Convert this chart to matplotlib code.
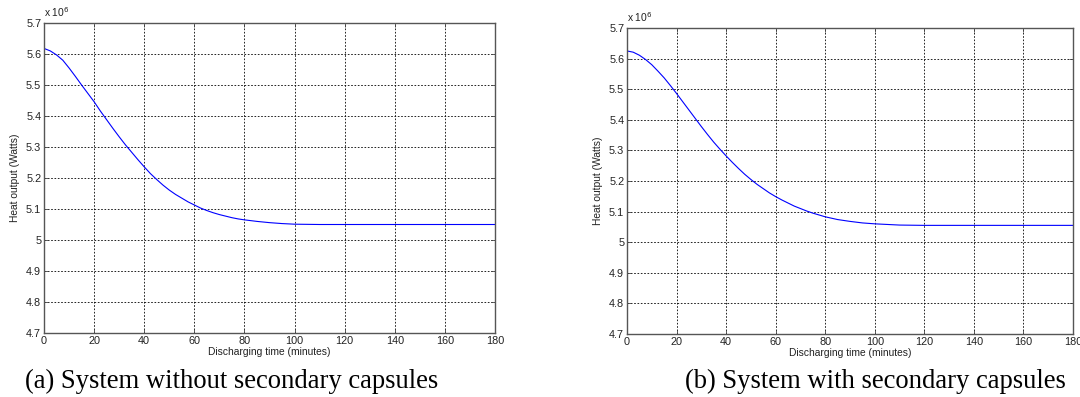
import matplotlib
matplotlib.use("Agg")
import matplotlib.pyplot as plt
import numpy as np

# Discharging time (minutes)
time_a = [0, 2.5, 5, 7.5, 10, 12.5, 15, 17.5, 20, 22.5, 25, 27.5, 30, 32.5, 35, 37.5, 40,
          42.5, 45, 47.5, 50, 52.5, 55, 57.5, 60, 62.5, 65, 67.5, 70, 72.5, 75, 77.5, 80,
          85, 90, 95, 100, 110, 120, 130, 140, 150, 160, 170, 180]
# Heat output (x 10^6 W) - system without secondary capsules
heat_a = [5.618, 5.610, 5.597, 5.580, 5.555, 5.528, 5.500, 5.473, 5.446, 5.416, 5.388, 5.360,
          5.333, 5.307, 5.283, 5.259, 5.236, 5.214, 5.195, 5.177, 5.161, 5.147, 5.135, 5.123,
          5.113, 5.103, 5.095, 5.088, 5.082, 5.077, 5.072, 5.068, 5.065,
          5.060, 5.056, 5.053, 5.051, 5.050, 5.050, 5.050, 5.050, 5.050, 5.050, 5.050, 5.050]

time_b = [0, 2.5, 5, 7.5, 10, 12.5, 15, 17.5, 20, 22.5, 25, 27.5, 30, 32.5, 35, 37.5, 40,
          42.5, 45, 47.5, 50, 52.5, 55, 57.5, 60, 62.5, 65, 67.5, 70, 72.5, 75, 77.5, 80,
          85, 90, 95, 100, 105, 110, 120, 130, 140, 150, 160, 170, 180]
# Heat output (x 10^6 W) - system with secondary capsules
heat_b = [5.625, 5.621, 5.611, 5.597, 5.580, 5.559, 5.537, 5.512, 5.486, 5.459, 5.432, 5.405,
          5.378, 5.352, 5.327, 5.304, 5.282, 5.261, 5.241, 5.222, 5.205, 5.189, 5.175, 5.161,
          5.149, 5.138, 5.128, 5.118, 5.110, 5.102, 5.095, 5.089, 5.083,
          5.074, 5.068, 5.063, 5.060, 5.058, 5.056, 5.055, 5.055, 5.055, 5.055, 5.055, 5.055, 5.055]

xticks = [0, 20, 40, 60, 80, 100, 120, 140, 160, 180]
yticks = [4.7, 4.8, 4.9, 5.0, 5.1, 5.2, 5.3, 5.4, 5.5, 5.6, 5.7]
ytick_labels = ["4.7", "4.8", "4.9", "5", "5.1", "5.2", "5.3", "5.4", "5.5", "5.6", "5.7"]
captions = ["(a) System without secondary capsules", "(b) System with secondary capsules"]

W, H = 1080, 397
fig = plt.figure(figsize=(W / 100, H / 100), dpi=100)

sans = ["Liberation Sans", "DejaVu Sans"]
serif = ["Liberation Serif", "DejaVu Serif"]

boxes = [(44, 23, 495, 333), (627, 28, 1073, 334)]
datasets = [(time_a, heat_a), (time_b, heat_b)]
caption_x = [25, 685]

for (x0, y0, x1, y1), (t, h), cap, cx in zip(boxes, datasets, captions, caption_x):
    ax = fig.add_axes([x0 / W, (H - y1) / H, (x1 - x0) / W, (y1 - y0) / H])
    ax.plot(t, h, color="#0000ff", linewidth=0.8)
    ax.set_xlim(0, 180)
    ax.set_ylim(4.7, 5.7)
    ax.set_xticks(xticks)
    ax.set_yticks(yticks)
    ax.set_yticklabels(ytick_labels)
    ax.grid(True, color="black", linestyle=(0, (2, 2)), linewidth=0.6)
    ax.tick_params(direction="in", length=3, width=0.6, labelsize=7.8, pad=2,
                   top=True, right=True, colors="#444444", labelcolor="#222222")
    for lab in ax.get_xticklabels() + ax.get_yticklabels():
        lab.set_family(sans)
    for s in ax.spines.values():
        s.set_color("#555555")
        s.set_linewidth(1.0)
    ax.set_xlabel("Discharging time (minutes)", fontsize=7.4, family=sans, labelpad=1, color="#222222")
    ax.set_ylabel("Heat output (Watts)", fontsize=7.4, family=sans, labelpad=4, color="#222222")
    ax.text(0.0, 1.012, "x 10$^{6}$", transform=ax.transAxes, fontsize=7.4, family=sans,
            ha="left", va="bottom", color="#222222")
    fig.text(cx / W, 1 - 381 / H, cap, fontsize=19.2, family=serif, ha="left", va="center",
             color="black")

fig.savefig("out.png", dpi=100)
